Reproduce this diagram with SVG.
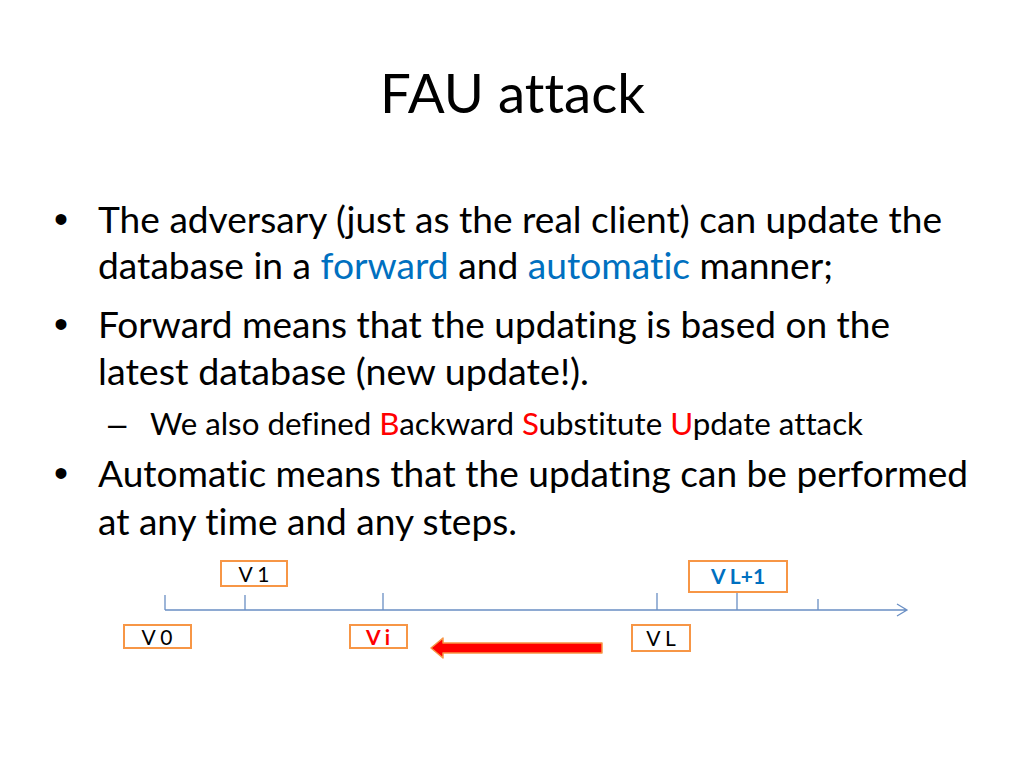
<svg xmlns="http://www.w3.org/2000/svg" width="1024" height="768" viewBox="0 0 1024 768">
<style>
.t{font-family:Lato,"Open Sans","Liberation Sans",sans-serif;fill:#000;font-variant-ligatures:none}
.b{font-family:"Liberation Sans",Arial,sans-serif;fill:#000}
.lbl{font-family:Lato,"Open Sans","Liberation Sans",sans-serif;font-size:21px;text-anchor:middle;fill:#000}
.blue{fill:#0070C0}
.red{fill:#FF0000}
.box{fill:#fff;stroke:#F79646;stroke-width:2}
.axis{stroke:#6A8FC4;stroke-width:1.3;fill:none}
.m{font-size:36px}
.sub{font-size:30px}
</style>
<rect width="1024" height="768" fill="#fff"/>
<text class="t" x="380" y="113" font-size="54" textLength="265" lengthAdjust="spacingAndGlyphs">FAU attack</text>
<g id="bullets">
<text class="b" x="54" y="233" font-size="40">•</text>
<text class="t m" x="98" y="233" textLength="844" lengthAdjust="spacingAndGlyphs">The adversary (just as the real client) can update the</text>
<text class="t m" x="98" y="279" textLength="735" lengthAdjust="spacingAndGlyphs">database in a <tspan class="blue">forward</tspan> and <tspan class="blue">automatic</tspan> manner;</text>
<text class="b" x="54" y="338" font-size="40">•</text>
<text class="t m" x="98" y="338" textLength="792" lengthAdjust="spacingAndGlyphs">Forward means that the updating is based on the</text>
<text class="t m" x="98" y="385" textLength="491" lengthAdjust="spacingAndGlyphs">latest database (new update!).</text>
<text class="b" x="108" y="435" font-size="33">–</text>
<text class="t sub" x="150" y="435" textLength="713" lengthAdjust="spacingAndGlyphs">We also defined <tspan class="red">B</tspan>ackward <tspan class="red">S</tspan>ubstitute <tspan class="red">U</tspan>pdate attack</text>
<text class="b" x="54" y="487" font-size="40">•</text>
<text class="t m" x="98" y="487" textLength="870" lengthAdjust="spacingAndGlyphs">Automatic means that the updating can be performed</text>
<text class="t m" x="98" y="535" textLength="419" lengthAdjust="spacingAndGlyphs">at any time and any steps.</text>
</g>
<g id="connectors">
<path class="axis" d="M165,610 H907 M897,604 L907,610 L897,616 M165,595 V610 M245,595 V610 M383,593 V610 M657,593 V610 M737,593 V610 M818,599 V610"/>
<polygon points="431,648 443,638 443,643 602,643 602,653 443,653 443,658" fill="#FF0000" stroke="#F79646" stroke-width="1.5" stroke-linejoin="round"/>
</g>
<g id="v1"><rect class="box" x="221" y="561" width="66" height="25"/><text class="lbl" x="254" y="582">V 1</text></g>
<g id="v0"><rect class="box" x="124" y="625" width="67" height="23"/><text class="lbl" x="157" y="645">V 0</text></g>
<g id="vi"><rect class="box" x="350" y="625" width="57" height="23"/><text class="lbl red" x="378" y="645" font-weight="bold">V i</text></g>
<g id="vl"><rect class="box" x="632" y="625" width="58" height="26"/><text class="lbl" x="661" y="646">V L</text></g>
<g id="vl1"><rect class="box" x="689" y="561" width="98" height="31"/><text class="lbl blue" x="738" y="584" font-size="22" font-weight="bold">V L+1</text></g>
</svg>
